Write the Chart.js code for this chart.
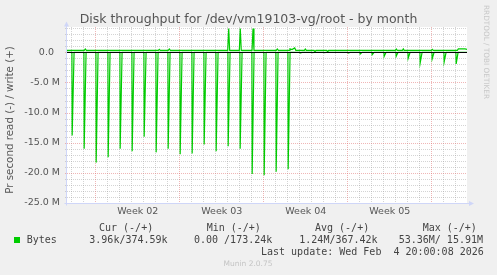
<!DOCTYPE html>
<html><head><meta charset="utf-8">
<script src="https://cdn.jsdelivr.net/npm/chart.js@4"></script>
<style>
html,body{margin:0;padding:0;background:#F0F0F0;overflow:hidden}
canvas{display:block}
</style></head>
<body>
<canvas id="c" width="497" height="275"></canvas>
<script>
// ---------- data ----------
const titleText = 'Disk throughput for /dev/vm19103-vg/root - by month';
const yAxisTitle = 'Pr second read (-) / write (+)';
const weekLabels = ['Week 02', 'Week 03', 'Week 04', 'Week 05'];
const weekLabelDays = [5.55, 12.55, 19.55, 26.55];
const weekLineDays = [2, 9, 16, 23, 30];
const yTickValues = [0, -5e6, -10e6, -15e6, -20e6, -25e6];
const yTickLabels = ['0.0  ', '-5.0 M', '-10.0 M', '-15.0 M', '-20.0 M', '-25.0 M'];
const xMin = -0.35, xMax = 32.983;
const yMin = -25e6, yMax = 4.2e6;

// read (negative) : daily spikes, day position and depth in MB/s
const readSpikeDays = [0.08,1.08,2.08,3.08,4.08,5.08,6.08,7.08,8.08,9.08,10.08,11.08,12.08,13.08,14.08,15.08,16.08,17.08,18.08,19.08,20.08,21.08,22.08,23.08,24.08,25.08,26.08,27.08,28.08,29.08,30.08,31.08,32.08];
const readSpikeMB = [-13.8,-16.0,-18.3,-17.4,-16.0,-16.4,-14.0,-16.6,-16.0,-16.9,-16.8,-15.3,-16.4,-15.6,-16.0,-20.2,-20.4,-19.8,-19.4,-0.1,-0.05,-0.05,0,-0.1,-0.3,-0.4,-0.66,-0.66,-1.0,-1.77,-1.1,-1.6,-1.93];

// write (positive) : samples (day, MB/s)
const writeDays = [-0.35,1.09,1.175,1.26,7.26,7.34,7.42,8.09,8.175,8.26,13.045,13.125,13.205,14.01,14.09,14.17,15.07,15.15,15.23,17.09,17.175,17.26,18.15,18.23,18.4,18.625,18.72,19.43,19.51,19.59,20.24,20.317,20.4,21.3,21.375,21.45,27.01,27.09,27.17,27.6,27.675,27.75,30.01,30.09,30.17,32.18,32.26,32.817,32.983];
const writeMB  = [0.33,0.33,0.56,0.33,0.33,0.5,0.33,0.33,0.56,0.33,0.33,3.94,0.33,0.33,3.94,0.33,0.33,3.94,0.33,0.33,0.56,0.33,0.33,0.56,0.45,0.73,0.33,0.33,0.56,0.33,0.33,0.1,0.33,0.33,0.1,0.33,0.33,0.56,0.33,0.33,0.56,0.33,0.33,0.5,0.33,0.33,0.56,0.56,0.5];

const legendHeaders = ['Cur (-/+)', 'Min (-/+)', 'Avg (-/+)', 'Max (-/+)'];
const legendSeries = 'Bytes';
const legendValues = ['3.96k/374.59k', '0.00 /173.24k', '1.24M/367.42k', '53.36M/ 15.91M'];
const lastUpdate = 'Last update: Wed Feb  4 20:00:08 2026';
const muninVersion = 'Munin 2.0.75';
const watermark = 'RRDTOOL / TOBI OETIKER';

// ---------- build tables ----------
const M = 1e6;
const readPoints = [{x: xMin, y: 0}];
readSpikeDays.forEach((d, i) => {
  readPoints.push({x: d - 0.02, y: 0}, {x: d, y: readSpikeMB[i] * M}, {x: d + 0.16, y: 0});
});
readPoints.push({x: xMax, y: 0});
const writePoints = writeDays.map((d, i) => ({x: d, y: writeMB[i] * M}));

const LINE_COLOR = '#00CC00';
const MINOR = 'rgba(160,160,160,0.45)';
const MAJOR = 'rgba(225,110,110,0.5)';
const AXIS = '#CFD6F8';
const TEXT = '#555555';

const rrdPlugin = {
  id: 'rrd',
  beforeDraw(chart) {
    const {ctx, chartArea: a} = chart;
    ctx.save();
    ctx.fillStyle = '#F0F0F0';
    ctx.fillRect(0, 0, chart.width, chart.height);
    ctx.fillStyle = '#FFFFFF';
    ctx.fillRect(a.left, a.top, a.right - a.left, a.bottom - a.top);
    ctx.restore();
  },
  beforeDatasetsDraw(chart) {
    const {ctx, chartArea: a, scales: {x, y}} = chart;
    ctx.save();
    ctx.lineWidth = 1;
    ctx.setLineDash([1, 1]);
    const seg = (x1, y1, x2, y2, c) => {
      ctx.strokeStyle = c; ctx.beginPath(); ctx.moveTo(x1, y1); ctx.lineTo(x2, y2); ctx.stroke();
    };
    for (let d = Math.ceil(xMin); d <= xMax; d++) {
      if (weekLineDays.includes(d)) continue;
      const px = Math.round(x.getPixelForValue(d)) + 0.5;
      seg(px, a.top, px, a.bottom + 2, MINOR);
    }
    for (let v = -24; v <= 4; v++) {
      if (v % 5 === 0) continue;
      const py = Math.round(y.getPixelForValue(v * M)) + 0.5;
      seg(a.left - 2, py, a.right, py, MINOR);
    }
    weekLineDays.forEach(d => {
      const px = Math.round(x.getPixelForValue(d)) + 0.5;
      seg(px, a.top, px, a.bottom + 2, MAJOR);
    });
    for (let v = -20; v <= 0; v += 5) {
      const py = Math.round(y.getPixelForValue(v * M)) + 0.5;
      seg(a.left - 2, py, a.right, py, MAJOR);
    }
    ctx.restore();
  },
  afterDatasetsDraw(chart) {
    const {ctx, chartArea: a, scales: {x, y}} = chart;
    ctx.save();
    const zy = Math.round(y.getPixelForValue(0)) + 0.5;
    ctx.strokeStyle = '#000000'; ctx.lineWidth = 1;
    ctx.beginPath(); ctx.moveTo(a.left, zy); ctx.lineTo(a.right, zy); ctx.stroke();
    const ax = a.left - 0.5, ay = Math.round(a.bottom) + 0.5;
    ctx.strokeStyle = AXIS; ctx.fillStyle = AXIS;
    ctx.beginPath(); ctx.moveTo(ax, ay + 2); ctx.lineTo(ax, a.top - 1); ctx.stroke();
    ctx.beginPath(); ctx.moveTo(ax - 2, ay); ctx.lineTo(a.right + 3, ay); ctx.stroke();
    ctx.beginPath(); ctx.moveTo(ax - 2.5, a.top - 0.5); ctx.lineTo(ax + 2.5, a.top - 0.5); ctx.lineTo(ax, a.top - 5.5); ctx.closePath(); ctx.fill();
    ctx.beginPath(); ctx.moveTo(a.right + 2, ay - 2.5); ctx.lineTo(a.right + 2, ay + 2.5); ctx.lineTo(a.right + 7, ay); ctx.closePath(); ctx.fill();

    ctx.fillStyle = TEXT;
    ctx.font = '12.5px "DejaVu Sans"';
    ctx.textAlign = 'center'; ctx.textBaseline = 'alphabetic';
    ctx.fillText(titleText, 248.5, 23.3);

    ctx.save();
    ctx.translate(10.5, 120);
    ctx.rotate(-Math.PI / 2);
    ctx.font = '10.3px "DejaVu Sans"';
    ctx.textAlign = 'center'; ctx.textBaseline = 'middle';
    ctx.fillText(yAxisTitle, 0, 0);
    ctx.restore();

    ctx.save();
    ctx.translate(485.5, 52);
    ctx.rotate(Math.PI / 2);
    ctx.font = '7.3px "DejaVu Sans"';
    ctx.fillStyle = '#C8C8C8';
    ctx.textAlign = 'center'; ctx.textBaseline = 'middle';
    ctx.fillText(watermark, 0, 0);
    ctx.restore();

    ctx.font = '10px "DejaVu Sans Mono"';
    ctx.fillStyle = '#444444';
    ctx.textAlign = 'left'; ctx.textBaseline = 'middle';
    const hx = [99, 206.7, 315, 422.7];
    legendHeaders.forEach((t, i) => ctx.fillText(t, hx[i], 228.5));
    const vx = [89.3, 194, 299.3, 398.7];
    ctx.fillText(legendSeries, 26.7, 240);
    legendValues.forEach((t, i) => ctx.fillText(t, vx[i], 240));
    ctx.fillText(lastUpdate, 261, 252);
    ctx.fillStyle = LINE_COLOR;
    ctx.fillRect(14, 237, 6, 6);

    ctx.font = '7.5px "DejaVu Sans"';
    ctx.fillStyle = '#C4C4C4';
    ctx.textAlign = 'center';
    ctx.fillText(muninVersion, 248, 264.5);
    ctx.restore();
  }
};

new Chart(document.getElementById('c'), {
  type: 'line',
  data: {
    datasets: [
      {label: 'write', data: writePoints, borderColor: LINE_COLOR, borderWidth: 1.2, pointRadius: 0, tension: 0, fill: false},
      {label: 'read', data: readPoints, borderColor: LINE_COLOR, borderWidth: 1.2, pointRadius: 0, tension: 0, fill: false}
    ]
  },
  options: {
    responsive: false,
    animation: false,
    devicePixelRatio: 1,
    layout: {padding: {top: 27, right: 30, left: 0, bottom: 0}},
    plugins: {legend: {display: false}, tooltip: {enabled: false}, title: {display: false}},
    scales: {
      x: {
        type: 'linear', min: xMin, max: xMax,
        grid: {display: false, drawTicks: false},
        border: {display: false},
        ticks: {
          font: {family: 'DejaVu Sans', size: 9.5}, color: TEXT, padding: 3,
          maxRotation: 0, autoSkip: false,
          callback: (v, i) => weekLabels[i]
        },
        afterBuildTicks: s => { s.ticks = weekLabelDays.map(v => ({value: v})); },
        afterFit: s => { s.height = 72; }
      },
      y: {
        type: 'linear', min: yMin, max: yMax,
        grid: {display: false, drawTicks: false},
        border: {display: false},
        ticks: {
          font: {family: 'DejaVu Sans', size: 9.5}, color: TEXT, padding: 7,
          callback: (v, i) => yTickLabels[i]
        },
        afterBuildTicks: s => { s.ticks = yTickValues.map(v => ({value: v})); },
        afterFit: s => { s.width = 67; }
      }
    }
  },
  plugins: [rrdPlugin]
});
</script>
</body></html>
